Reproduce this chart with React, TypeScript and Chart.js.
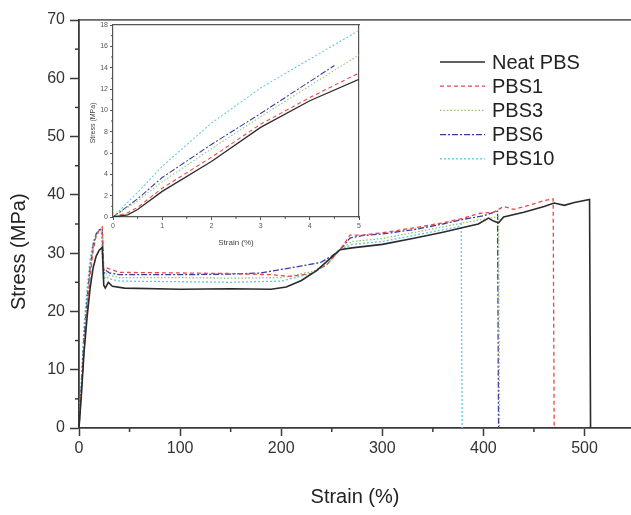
import React, { useEffect, useRef } from "react";
import { Chart, registerables } from "chart.js";

Chart.register(...registerables);

// ---------- Main chart data ----------
const seriesLabels = ["Neat PBS", "PBS1", "PBS3", "PBS6", "PBS10"];

const neatStrain = [0, 2.5, 5, 8, 11, 14, 17, 20, 23, 24.5, 26, 29, 33, 45, 100, 150, 190, 205, 220, 235, 248, 258, 270, 300, 330, 360, 380, 395, 405, 410, 415, 420, 440, 460, 470, 480, 490, 505, 506];
const neatStress = [0, 6, 13, 19, 24, 27.5, 29.5, 30.5, 31, 24.5, 24, 25, 24.3, 24, 23.8, 23.9, 23.8, 24.2, 25.3, 27, 29, 30.6, 30.9, 31.5, 32.5, 33.6, 34.4, 35, 36, 35.5, 35.2, 36.2, 37, 38, 38.6, 38.2, 38.7, 39.2, 0];

const pbs1Strain = [0, 2.5, 5, 8, 11, 14, 17, 20, 23, 24.5, 27, 30, 40, 100, 150, 190, 210, 230, 245, 255, 262, 268, 280, 300, 330, 360, 380, 395, 410, 420, 430, 445, 460, 469, 470];
const pbs1Stress = [0, 6.5, 13.5, 20, 26, 30.5, 33, 34, 34.5, 27, 27.5, 27.3, 26.7, 26.6, 26.5, 26.3, 26, 26.5, 28, 30, 31.5, 33.1, 33.1, 33.5, 34.3, 35.2, 36, 36.8, 37, 38, 37.5, 38.2, 39, 39.3, 0];

const pbs3Strain = [0, 2.5, 5, 8, 11, 14, 17, 20, 23, 24.5, 27, 30, 40, 100, 150, 200, 230, 245, 258, 270, 300, 330, 360, 380, 400, 410, 415, 416];
const pbs3Stress = [0, 7.5, 15.3, 21.5, 27, 31, 33, 33.8, 34, 26, 26.5, 26.2, 25.8, 25.8, 25.7, 25.8, 26.8, 28, 30.5, 32, 32.5, 33.5, 34.5, 35.2, 35.8, 36.1, 36.3, 0];

const pbs6Strain = [0, 2.5, 5, 8, 11, 14, 17, 20, 23, 24.5, 27, 30, 40, 100, 150, 180, 200, 220, 239, 250, 259, 268, 280, 300, 330, 360, 380, 400, 410, 414, 415];
const pbs6Stress = [0, 7.5, 15.6, 22, 27.5, 31.3, 33.3, 34, 34.2, 26.5, 27, 26.6, 26.3, 26.3, 26.4, 26.6, 27.2, 27.8, 28.4, 29.5, 30.7, 32.6, 33, 33.3, 34, 35, 35.8, 36.4, 37, 37.2, 0];

const pbs10Strain = [0, 2.5, 5, 8, 11, 14, 17, 20, 22, 24, 27, 30, 40, 100, 150, 200, 230, 245, 258, 270, 300, 330, 360, 375, 378, 379];
const pbs10Stress = [0, 9, 17.5, 24, 29, 32, 33.2, 33.5, 33.5, 25.5, 26, 25.6, 25.2, 25.1, 25, 25.2, 26.5, 28, 30.5, 31.5, 32, 33, 34, 34.5, 35, 0];

// ---------- Inset data (0-5 % strain) ----------
const insetNeatStrain = [0, 0.3, 0.5, 1, 2, 3, 4, 5];
const insetNeatStress = [0, 0.2, 0.7, 2.4, 5.2, 8.4, 10.9, 12.9];
const insetPbs1Strain = [0, 0.3, 0.5, 1, 2, 3, 4, 5];
const insetPbs1Stress = [0, 0.4, 0.9, 2.7, 5.6, 8.7, 11.2, 13.5];
const insetPbs3Strain = [0, 0.5, 1, 2, 3, 4, 5];
const insetPbs3Stress = [0, 1.5, 3.3, 6.4, 9.4, 12.3, 15.2];
const insetPbs6Strain = [0, 0.5, 1, 2, 3, 4, 4.5];
const insetPbs6Stress = [0, 1.7, 3.7, 6.8, 9.7, 12.7, 14.2];
const insetPbs10Strain = [0, 0.5, 1, 2, 3, 4, 5];
const insetPbs10Stress = [0, 2.3, 4.75, 8.8, 12.1, 14.8, 17.5];

// ---------- Tick definitions ----------
const mainXMax = 546;
const mainXStep = 100;
const mainYMax = 70;
const mainYStep = 10;
const insetXMax = 5;
const insetXStep = 1;
const insetYMax = 18;
const insetYStep = 2;

const styles = [
  { color: "#2b2b2b", dash: [] as number[], width: 1.6 },
  { color: "#f04444", dash: [4, 3], width: 1.3 },
  { color: "#8fc46c", dash: [1.5, 2], width: 1.3 },
  { color: "#3a3aa8", dash: [6, 2, 2, 2], width: 1.3 },
  { color: "#62c6e0", dash: [2, 2], width: 1.3 },
];

const zip = (xs: number[], ys: number[]) => xs.map((x, i) => ({ x, y: ys[i] }));

const mainSeries = [
  zip(neatStrain, neatStress),
  zip(pbs1Strain, pbs1Stress),
  zip(pbs3Strain, pbs3Stress),
  zip(pbs6Strain, pbs6Stress),
  zip(pbs10Strain, pbs10Stress),
];
const insetSeries = [
  zip(insetNeatStrain, insetNeatStress),
  zip(insetPbs1Strain, insetPbs1Stress),
  zip(insetPbs3Strain, insetPbs3Stress),
  zip(insetPbs6Strain, insetPbs6Stress),
  zip(insetPbs10Strain, insetPbs10Stress),
];

const FONT = "'Liberation Sans', Arial, sans-serif";
const AXIS = "#3a3a3a";

const makeDatasets = (series: { x: number; y: number }[][], scale: number) =>
  series.map((d, i) => ({
    label: seriesLabels[i],
    data: d,
    showLine: true,
    pointRadius: 0,
    borderColor: styles[i].color,
    borderDash: styles[i].dash,
    borderWidth: styles[i].width * scale,
    fill: false,
    tension: 0,
  }));

// minor tick plugin
const minorTicksPlugin = {
  id: "minorTicks",
  afterDraw(chart: any, _args: any, opts: any) {
    const ctx = chart.ctx;
    const xs = chart.scales.x;
    const ys = chart.scales.y;
    ctx.save();
    ctx.strokeStyle = opts.color || AXIS;
    ctx.lineWidth = opts.width || 1;
    if (opts.xStep) {
      for (let v = opts.xStep; v < xs.max; v += opts.xStep * 2) {
        const px = xs.getPixelForValue(v);
        ctx.beginPath();
        ctx.moveTo(px, xs.top);
        ctx.lineTo(px, xs.top + opts.len);
        ctx.stroke();
      }
    }
    if (opts.yStep) {
      for (let v = opts.yStep; v < ys.max; v += opts.yStep * 2) {
        const py = ys.getPixelForValue(v);
        ctx.beginPath();
        ctx.moveTo(ys.right, py);
        ctx.lineTo(ys.right - opts.len, py);
        ctx.stroke();
      }
    }
    ctx.restore();
  },
};

// legend plugin
const legendPlugin = {
  id: "customLegend",
  afterDraw(chart: any, _args: any, opts: any) {
    if (!opts || !opts.show) return;
    const ctx = chart.ctx;
    ctx.save();
    chart.data.datasets.forEach((ds: any, i: number) => {
      const y = opts.y + i * opts.gap;
      ctx.strokeStyle = ds.borderColor;
      ctx.lineWidth = ds.borderWidth;
      ctx.setLineDash(ds.borderDash || []);
      ctx.beginPath();
      ctx.moveTo(opts.x, y);
      ctx.lineTo(opts.x + opts.len, y);
      ctx.stroke();
      ctx.setLineDash([]);
      ctx.fillStyle = "#222";
      ctx.font = `${opts.fontSize}px ${FONT}`;
      ctx.textBaseline = "middle";
      ctx.textAlign = "left";
      ctx.fillText(ds.label, opts.x + opts.len + opts.textGap, y + 1);
    });
    ctx.restore();
  },
};

export default function App() {
  const mainRef = useRef<HTMLCanvasElement>(null);
  const insetRef = useRef<HTMLCanvasElement>(null);

  useEffect(() => {
    const mainChart = new Chart(mainRef.current as HTMLCanvasElement, {
      type: "scatter",
      data: { datasets: makeDatasets(mainSeries, 1) as any },
      plugins: [minorTicksPlugin, legendPlugin],
      options: {
        animation: false,
        responsive: false,
        maintainAspectRatio: false,
        layout: { padding: { top: 20, right: 0, left: 0, bottom: 0 } },
        plugins: {
          legend: { display: false },
          tooltip: { enabled: false },
          minorTicks: { xStep: mainXStep / 2, yStep: mainYStep / 2, len: 4, color: AXIS, width: 1.5 },
          customLegend: { show: true, x: 440, y: 62, gap: 24.2, len: 45, textGap: 7, fontSize: 20 },
        } as any,
        scales: {
          x: {
            type: "linear",
            position: "bottom",
            min: 0,
            max: mainXMax,
            afterFit: (s: any) => { s.height = 87; },
            ticks: { stepSize: mainXStep, includeBounds: false, color: "#333", font: { size: 16, family: FONT }, padding: 3 },
            grid: { drawOnChartArea: false, drawTicks: true, tickLength: 8, tickColor: AXIS, tickWidth: 1.5 },
            border: { color: AXIS, width: 1.8 },
            title: { display: true, text: "Strain (%)", color: "#222", font: { size: 20, family: FONT }, padding: { top: 0, bottom: 6 } },
          },
          x2: {
            type: "linear",
            position: "top",
            min: 0,
            max: mainXMax,
            afterFit: (s: any) => { s.height = 0; },
            ticks: { display: false },
            grid: { drawOnChartArea: false, drawTicks: false },
            border: { color: "#666", width: 1.8 },
          },
          y: {
            type: "linear",
            position: "left",
            min: 0,
            max: mainYMax,
            afterFit: (s: any) => { s.width = 79; },
            ticks: { stepSize: mainYStep, color: "#333", font: { size: 16, family: FONT }, padding: 5 },
            grid: { drawOnChartArea: false, drawTicks: true, tickLength: 9, tickColor: AXIS, tickWidth: 1.5 },
            border: { color: AXIS, width: 1.8 },
            title: { display: true, text: "Stress (MPa)          ", color: "#222", font: { size: 20, family: FONT }, padding: { top: 7, bottom: 0 } },
          },
        } as any,
      },
    });

    const insetChart = new Chart(insetRef.current as HTMLCanvasElement, {
      type: "scatter",
      data: { datasets: makeDatasets(insetSeries, 0.8) as any },
      plugins: [minorTicksPlugin],
      options: {
        animation: false,
        responsive: false,
        maintainAspectRatio: false,
        layout: { padding: { top: 7, right: 6, left: 0, bottom: 0 } },
        plugins: {
          legend: { display: false },
          tooltip: { enabled: false },
          minorTicks: { xStep: insetXStep / 2, yStep: insetYStep / 2, len: 2, color: "#555", width: 1 },
        } as any,
        scales: {
          x: {
            type: "linear",
            position: "bottom",
            min: 0,
            max: insetXMax,
            afterFit: (s: any) => { s.height = 35; },
            ticks: { stepSize: insetXStep, color: "#555", font: { size: 7, family: FONT }, padding: 2 },
            grid: { drawOnChartArea: false, drawTicks: true, tickLength: 3, tickColor: "#555", tickWidth: 1 },
            border: { color: "#555", width: 1.2 },
            title: { display: true, text: "Strain (%)", color: "#444", font: { size: 8, family: FONT }, padding: { top: 0, bottom: 4 } },
          },
          x2: {
            type: "linear",
            position: "top",
            min: 0,
            max: insetXMax,
            afterFit: (s: any) => { s.height = 0; },
            ticks: { display: false },
            grid: { drawOnChartArea: false, drawTicks: false },
            border: { color: "#555", width: 1.2 },
          },
          y: {
            type: "linear",
            position: "left",
            min: 0,
            max: insetYMax,
            afterFit: (s: any) => { s.width = 25; },
            ticks: { stepSize: insetYStep, color: "#555", font: { size: 7, family: FONT }, padding: 2 },
            grid: { drawOnChartArea: false, drawTicks: true, tickLength: 3, tickColor: "#555", tickWidth: 1 },
            border: { color: "#555", width: 1.2 },
            title: { display: true, text: "Stress (MPa)  ", color: "#444", font: { size: 7, family: FONT }, padding: { top: 1, bottom: 0 } },
          },
          y2: {
            type: "linear",
            position: "right",
            min: 0,
            max: insetYMax,
            afterFit: (s: any) => { s.width = 0; },
            ticks: { display: false },
            grid: { drawOnChartArea: false, drawTicks: false },
            border: { color: "#555", width: 1.2 },
          },
        } as any,
      },
    });

    return () => {
      mainChart.destroy();
      insetChart.destroy();
    };
  }, []);

  return (
    <div style={{ position: "absolute", left: 0, top: 0, width: 631, height: 515, background: "#fff" }}>
      <canvas ref={mainRef} width={631} height={515} style={{ position: "absolute", left: 0, top: 0, width: 631, height: 515 }} />
      <canvas ref={insetRef} width={277} height={234} style={{ position: "absolute", left: 88, top: 18, width: 277, height: 234 }} />
    </div>
  );
}
